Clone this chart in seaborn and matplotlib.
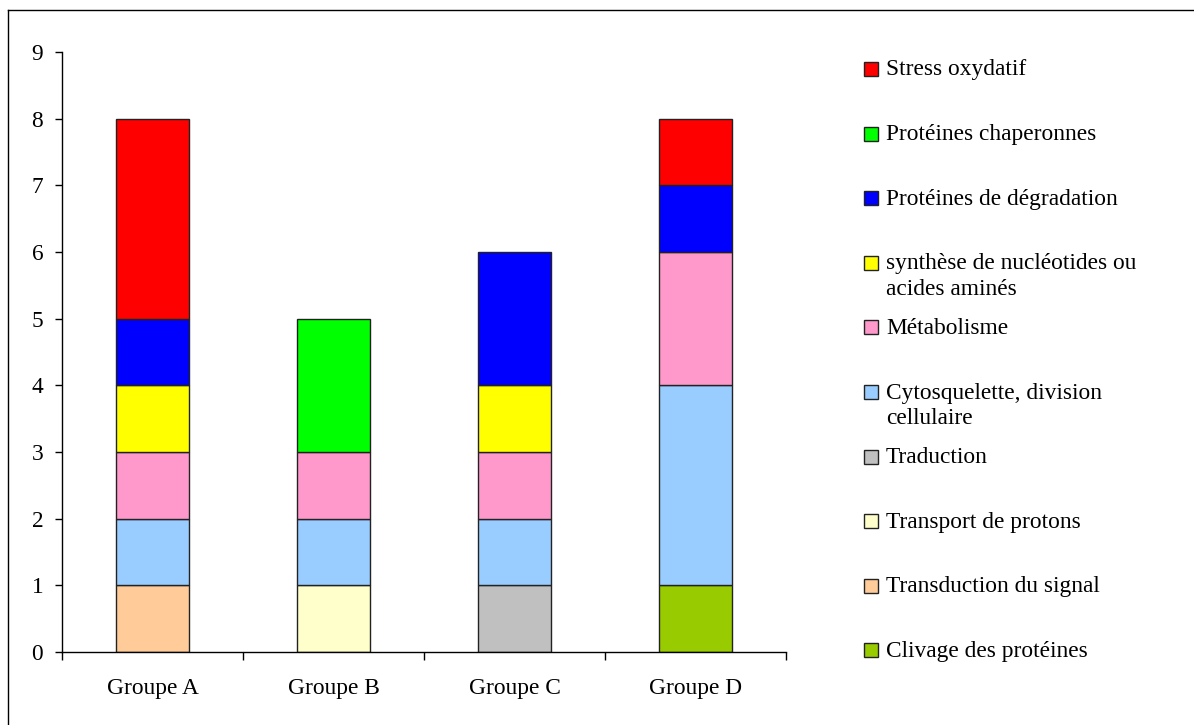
import matplotlib
matplotlib.use('Agg')
import matplotlib.pyplot as plt
import matplotlib.patches as mpatches
import matplotlib.lines as mlines
import seaborn as sns
import pandas as pd

# Groups on the x axis
groups = ['Groupe A', 'Groupe B', 'Groupe C', 'Groupe D']

# Stack layers, bottom to top
categories = [
    'Clivage des protéines',
    'Transduction du signal',
    'Transport de protons',
    'Traduction',
    'Cytosquelette, division\ncellulaire',
    'Métabolisme',
    'synthèse de nucléotides ou\nacides aminés',
    'Protéines de dégradation',
    'Protéines chaperonnes',
    'Stress oxydatif',
]
colors = ['#99CC00', '#FFCC99', '#FFFFCC', '#C0C0C0', '#99CCFF',
          '#FF99CC', '#FFFF00', '#0000FF', '#00FF00', '#FF0000']

# counts per category, one value per group (A, B, C, D)
clivage = [0, 0, 0, 1]
transduction = [1, 0, 0, 0]
transport = [0, 1, 0, 0]
traduction = [0, 0, 1, 0]
cytosquelette = [1, 1, 1, 3]
metabolisme = [1, 1, 1, 2]
synthese = [1, 0, 1, 0]
degradation = [1, 0, 2, 1]
chaperonnes = [0, 2, 0, 0]
stress = [3, 0, 0, 1]

values = [clivage, transduction, transport, traduction, cytosquelette,
          metabolisme, synthese, degradation, chaperonnes, stress]

W, H = 1194, 725
fig = plt.figure(figsize=(W / 100, H / 100), dpi=100)
plt.rcParams['font.family'] = ['Liberation Serif', 'DejaVu Serif']
fs = 16.8

ax = fig.add_axes([62 / W, 1 - 652 / H, (786 - 62) / W, (652 - 52) / H])

bottom = [0] * len(groups)
for cat, col, vals in zip(categories, colors, values):
    df = pd.DataFrame({'groupe': groups, 'n': vals, 'base': bottom})
    df = df[df['n'] > 0]
    sns.barplot(data=df, x='groupe', y='n', order=groups, bottom=df['base'].values,
                color=col, width=0.4, edgecolor='#222222', linewidth=1.0,
                errorbar=None, saturation=1, ax=ax)
    bottom = [b + v for b, v in zip(bottom, vals)]

ax.set_xlim(-0.5, len(groups) - 0.5)
ax.set_ylim(0, 9)
ax.set_yticks(range(10))
ax.set_xlabel('')
ax.set_ylabel('')
for s in ['top', 'right']:
    ax.spines[s].set_visible(False)
for s in ['left', 'bottom']:
    ax.spines[s].set_color('black')
    ax.spines[s].set_linewidth(1.0)

ax.tick_params(axis='y', direction='out', length=5, width=1, pad=8.5,
               labelsize=fs, colors='black')
ax.tick_params(axis='x', which='major', length=0, pad=19, labelsize=fs)
ax.set_xticks([i - 0.5 for i in range(len(groups) + 1)], minor=True)
ax.tick_params(axis='x', which='minor', direction='out', length=6, width=1)

# legend drawn on the right, Excel style
lx, ly0, dy = 864, 69, 64.6
for i in range(len(categories)):
    idx = len(categories) - 1 - i
    y = ly0 + i * dy
    fig.patches.append(mpatches.Rectangle((lx / W, 1 - (y + 7) / H), 14 / W, 14 / H,
                                          transform=fig.transFigure, facecolor=colors[idx],
                                          edgecolor='#222222', linewidth=1.0))
    fig.text((lx + 22) / W, 1 - (y - 9.5) / H, categories[idx], fontsize=fs,
             va='top', ha='left', linespacing=1.3)

# outer frame (only left and top visible in the crop)
fig.lines.append(mlines.Line2D([8 / W, 8 / W], [0, 1 - 10 / H], transform=fig.transFigure,
                               color='black', linewidth=1.0))
fig.lines.append(mlines.Line2D([8 / W, 1], [1 - 10 / H, 1 - 10 / H], transform=fig.transFigure,
                               color='black', linewidth=1.0))

fig.savefig('out.png', dpi=100)
